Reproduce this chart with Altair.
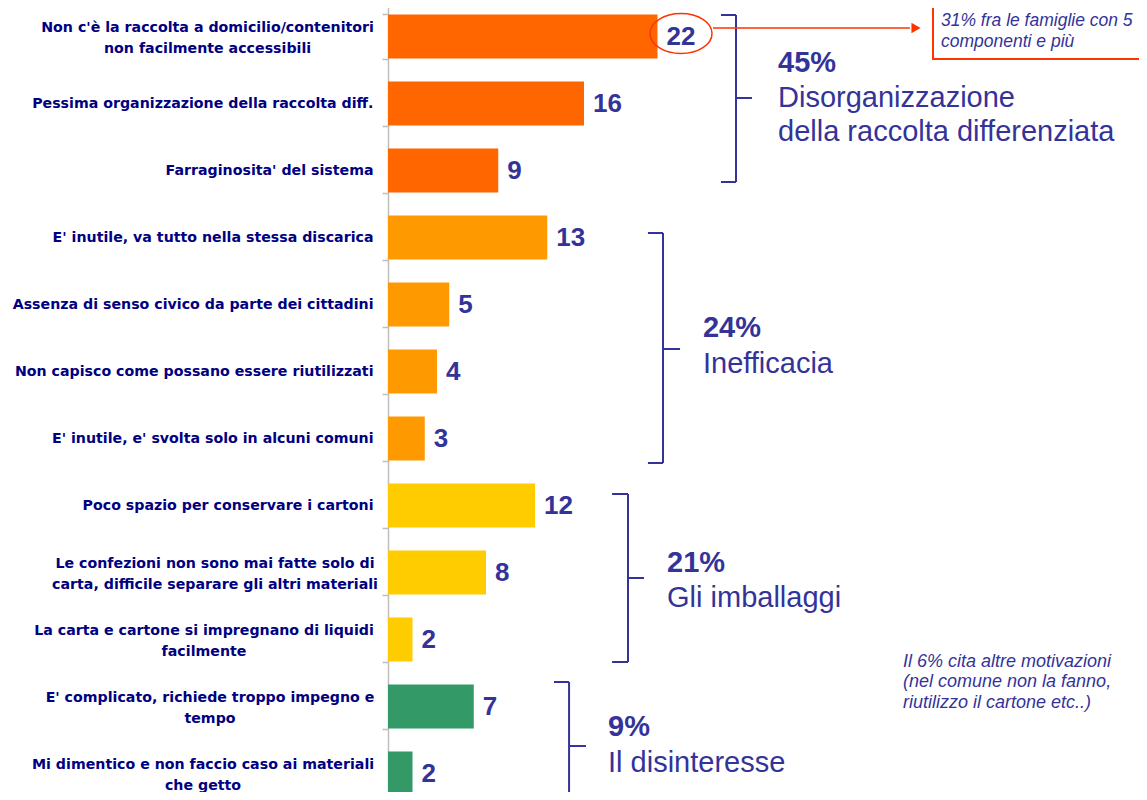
import altair as alt
import pandas as pd

# ---------------- data ----------------
labels = [
    "Non c'è la raccolta a domicilio/contenitori\nnon facilmente accessibili",
    "Pessima organizzazione della raccolta diff.",
    "Farraginosita' del sistema",
    "E' inutile, va tutto nella stessa discarica",
    "Assenza di senso civico da parte dei cittadini",
    "Non capisco come possano essere riutilizzati",
    "E' inutile, e' svolta solo in alcuni comuni",
    "Poco spazio per conservare i cartoni",
    "Le confezioni non sono mai fatte solo di\ncarta, difficile separare gli altri materiali",
    "La carta e cartone si impregnano di liquidi\nfacilmente",
    "E' complicato, richiede troppo impegno e\ntempo",
    "Mi dimentico e non faccio caso ai materiali\nche getto",
]
values = [22, 16, 9, 13, 5, 4, 3, 12, 8, 2, 7, 2]
group_of = ["G1"] * 3 + ["G2"] * 4 + ["G3"] * 3 + ["G4"] * 2

group_ids = ["G1", "G2", "G3", "G4"]
group_pct = ["45%", "24%", "21%", "9%"]
group_names = [
    "Disorganizzazione\ndella raccolta differenziata",
    "Inefficacia",
    "Gli imballaggi",
    "Il disinteresse",
]
bar_colors = ["#ff6600", "#ff9900", "#ffcc00", "#339966"]

callout_text = "31% fra le famiglie con 5\ncomponenti e più"
footnote_text = "Il 6% cita altre motivazioni\n(nel comune non la fanno,\nriutilizzo il cartone etc..)"

# ---------------- layout ----------------
# horizontal centre (in value units, left of the axis) of the two-line label blocks
label_centre = {0: -14.73, 8: -14.12, 9: -15.02, 10: -14.53, 11: -15.10}

df = pd.DataFrame({"cat": labels, "value": values, "group": group_of,
                   "lx": [label_centre.get(i) for i in range(len(labels))]})

ROW_PX = 67.0
Y0 = -5.0


def ypx(row_units):
    """row units (0 = top of first row) -> plot pixels, same geometry as the band scale"""
    return Y0 + ROW_PX * row_units


# annotation geometry (x in value units, y in row units)
bracket_x = [28.41, 22.45, 19.59, 14.78]
bracket_tick_x = [27.18, 21.22, 18.29, 13.55]
bracket_mid_x = [29.71, 23.84, 20.90, 16.16]
bracket_top = [0.179, 3.433, 7.328, 10.134]
bracket_mid = [1.418, 5.164, 8.582, 11.09]
bracket_bot = [2.672, 6.866, 9.836, 12.2]

text_x = [31.84, 25.71, 22.78, 17.96]
pct_y = [1.030, 4.985, 8.493, 10.94]
name_y = [1.552, 5.522, 9.015, 11.48]

PLOT_W = 751
XMAX = PLOT_W / 12.25
xs = alt.Scale(domain=[0, XMAX], nice=False, zero=True)
NAVY = "#333399"
LABEL_NAVY = "#000080"
RED = "#ff3300"
FONT = "Liberation Sans"
LFONT = "DejaVu Sans"
LSIZE = 14.2

base = alt.Chart(df)
ysort = alt.Y("cat:N", sort=labels)

bars = base.mark_bar().encode(
    x=alt.X("value:Q", scale=xs, axis=None),
    y=alt.Y("cat:N", sort=labels,
            scale=alt.Scale(range=[-5, 799], paddingInner=0.34, paddingOuter=0.17),
            axis=alt.Axis(title=None, domainColor="#bfbfbf", domainWidth=1.5,
                          tickColor="#bfbfbf", tickWidth=1.5, tickSize=6,
                          tickBand="extent", labelFont=LFONT,
                          labelFontWeight="bold", labelFontSize=LSIZE,
                          labelColor=LABEL_NAVY, labelPadding=9, labelLimit=420,
                          labelAlign="right", labelBaseline="middle",
                          labelExpr="indexof(datum.label, '\\n') >= 0 ? '' : datum.label")),
    color=alt.Color("group:N", scale=alt.Scale(domain=group_ids, range=bar_colors),
                    legend=None),
)

# two-line category labels: a centred text block to the left of the axis
multi = base.transform_filter("datum.lx != null").mark_text(
    align="center", baseline="middle", dy=-8.5, font=LFONT, fontWeight="bold",
    fontSize=LSIZE, lineBreak="\n", lineHeight=21, color=LABEL_NAVY).encode(
    x=alt.X("lx:Q", scale=xs, axis=None),
    y=ysort,
    text="cat:N",
)

vals = base.mark_text(align="left", baseline="middle", dx=9, font=FONT,
                      fontWeight="bold", fontSize=26, color=NAVY).encode(
    x=alt.X("value:Q", scale=xs, axis=None),
    y=ysort,
    text="value:Q",
)

layers = [bars, multi, vals]


def hrule(x1, x2, yu, color, width):
    d = pd.DataFrame({"x": [x1], "x2": [x2]})
    return alt.Chart(d).mark_rule(color=color, strokeWidth=width).encode(
        x=alt.X("x:Q", scale=xs, axis=None), x2="x2:Q", y=alt.value(ypx(yu)))


def vrule(xu, y1, y2, color, width):
    d = pd.DataFrame({"x": [xu]})
    return alt.Chart(d).mark_rule(color=color, strokeWidth=width).encode(
        x=alt.X("x:Q", scale=xs, axis=None),
        y=alt.value(ypx(y1)), y2=alt.value(ypx(y2)))


for vx, tx, mx, t, m, b in zip(bracket_x, bracket_tick_x, bracket_mid_x,
                               bracket_top, bracket_mid, bracket_bot):
    layers.append(vrule(vx, t, b, NAVY, 2))
    layers.append(hrule(tx, vx, t, NAVY, 2))
    layers.append(hrule(tx, vx, b, NAVY, 2))
    layers.append(hrule(vx, mx, m, NAVY, 2))

for pct, name, tx, py, ny in zip(group_pct, group_names, text_x, pct_y, name_y):
    d = pd.DataFrame({"pct": [pct], "name": [name], "x": [tx]})
    layers.append(alt.Chart(d).mark_text(
        align="left", baseline="alphabetic", font=FONT, fontWeight="bold",
        fontSize=29, color=NAVY).encode(
        x=alt.X("x:Q", scale=xs, axis=None), y=alt.value(ypx(py)), text="pct:N"))
    layers.append(alt.Chart(d).mark_text(
        align="left", baseline="alphabetic", font=FONT, fontSize=29,
        lineBreak="\n", lineHeight=34, color=NAVY).encode(
        x=alt.X("x:Q", scale=xs, axis=None), y=alt.value(ypx(ny)), text="name:N"))

# footnote
foot_df = pd.DataFrame({"t": [footnote_text], "x": [42.04]})
layers.append(alt.Chart(foot_df).mark_text(
    align="left", baseline="alphabetic", font=FONT, fontStyle="italic",
    fontSize=18, lineBreak="\n", lineHeight=20.5, color=NAVY).encode(
    x=alt.X("x:Q", scale=xs, axis=None), y=alt.value(ypx(9.91)), text="t:N"))

# red arrow from the circled value to the call-out box
layers.append(hrule(26.53, 42.6, 0.373, RED, 1.5))
head_df = pd.DataFrame({"x": [43.1]})
layers.append(alt.Chart(head_df).mark_point(
    shape="triangle-right", filled=True, size=110, color=RED, opacity=1).encode(
    x=alt.X("x:Q", scale=xs, axis=None), y=alt.value(ypx(0.373))))

# call-out box
box_df = pd.DataFrame({"x": [44.49], "x2": [XMAX + 2]})
layers.append(alt.Chart(box_df).mark_rect(fill="white", stroke=RED, strokeWidth=2).encode(
    x=alt.X("x:Q", scale=xs, axis=None), x2="x2:Q",
    y=alt.value(ypx(-0.3)), y2=alt.value(ypx(0.836))))
call_df = pd.DataFrame({"t": [callout_text], "x": [45.14]})
layers.append(alt.Chart(call_df).mark_text(
    align="left", baseline="alphabetic", font=FONT, fontStyle="italic",
    fontSize=17.5, lineBreak="\n", lineHeight=21, color=NAVY).encode(
    x=alt.X("x:Q", scale=xs, axis=None), y=alt.value(ypx(0.343)), text="t:N"))

# ellipse around the value 22
ELLIPSE = ("M-1,0 C-1,-0.356 -0.552,-0.645 0,-0.645 C0.552,-0.645 1,-0.356 1,0 "
           "C1,0.356 0.552,0.645 0,0.645 C-0.552,0.645 -1,0.356 -1,0 Z")
ell_df = pd.DataFrame({"x": [23.92]})
layers.append(alt.Chart(ell_df).mark_point(
    shape=ELLIPSE, filled=False, size=3844, color=RED, strokeWidth=1.5, opacity=1).encode(
    x=alt.X("x:Q", scale=xs, axis=None), y=alt.value(ypx(0.455))))

chart = alt.layer(*layers).properties(
    width=PLOT_W, height=784,
    autosize=alt.AutoSizeParams(type="none"),
    padding={"left": 380, "top": 0, "right": 0, "bottom": 0},
    background="white",
).configure_view(stroke=None)

chart.save("out.html", embed_options={"renderer": "svg", "actions": False})
